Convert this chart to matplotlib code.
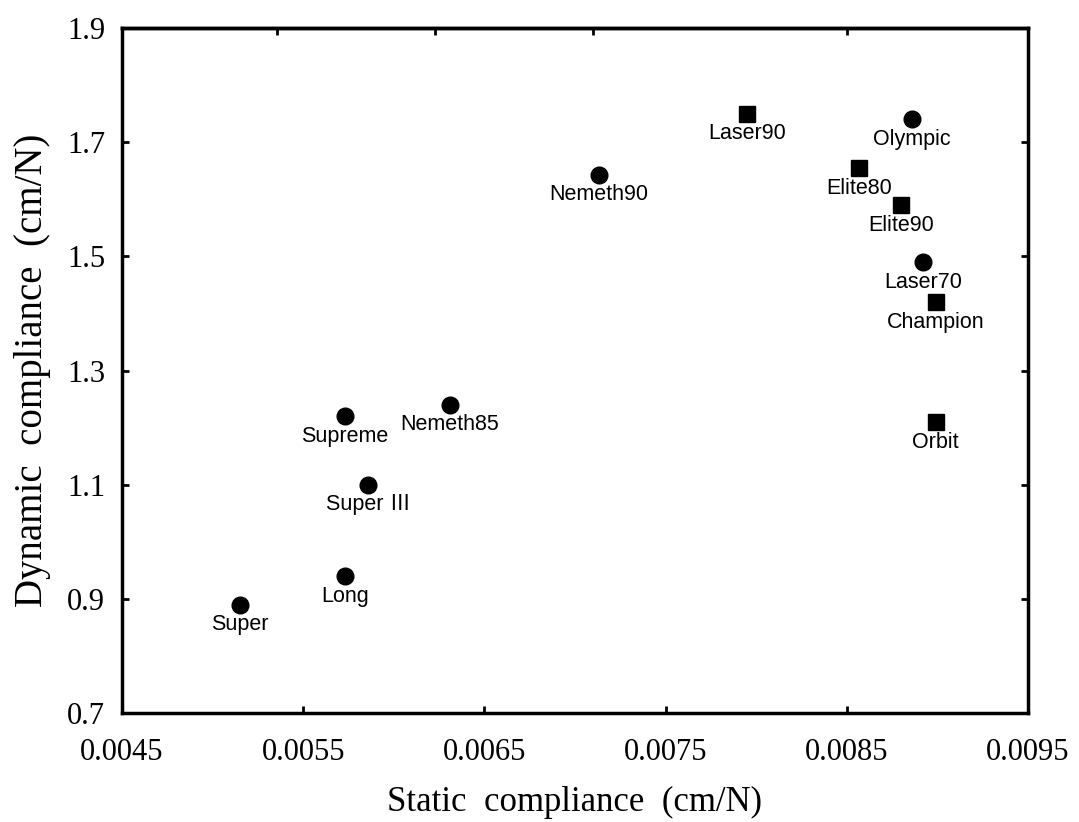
import matplotlib
matplotlib.use("Agg")
import matplotlib.pyplot as plt

# Strings / values
names = ["Super", "Long", "Super \u2162", "Supreme", "Nemeth85", "Nemeth90",
         "Olympic", "Laser70",
         "Laser90", "Elite80", "Elite90", "Champion", "Orbit"]
static = [0.00515, 0.00573, 0.00586, 0.00573, 0.00631, 0.00713,
          0.00886, 0.00892,
          0.00795, 0.00857, 0.00880, 0.00899, 0.00899]
dynamic = [0.89, 0.94, 1.10, 1.22, 1.24, 1.643,
           1.74, 1.49,
           1.75, 1.655, 1.59, 1.42, 1.21]
markers = ["o"] * 8 + ["s"] * 5

xticks = [0.0045, 0.0055, 0.0065, 0.0075, 0.0085, 0.0095]
yticks = [0.7, 0.9, 1.1, 1.3, 1.5, 1.7, 1.9]
# the top frame has its own (unlabelled) tick marks
top_ticks = [0.005355, 0.006227, 0.007099, 0.008501]


def main():
    fig = plt.figure(figsize=(10.79, 8.22), dpi=100)
    ax = fig.add_axes([0.1131, 0.1326, 0.8396, 0.8333])

    for x, y, m, name in zip(static, dynamic, markers, names):
        ax.plot(x, y, m, color="black", markersize=12)
        ax.annotate(name, (x, y), xytext=(0, -7), textcoords="offset points",
                    ha="center", va="top", fontsize=15.5,
                    family=["Liberation Sans", "Noto Sans CJK JP"])

    ax.set_xlim(0.0045, 0.0095)
    ax.set_ylim(0.7, 1.9)
    ax.set_xticks(xticks)
    ax.set_yticks(yticks)
    ax.set_xticklabels(["%.4f" % t for t in xticks])
    ax.set_yticklabels(["%.1f" % t for t in yticks])
    ax.tick_params(direction="in", length=5, width=2, right=True, labelsize=22)
    ax.tick_params(axis="x", pad=18)
    ax.tick_params(axis="y", pad=12)
    for lab in ax.get_xticklabels() + ax.get_yticklabels():
        lab.set_family("Liberation Serif")
    for s in ax.spines.values():
        s.set_linewidth(2.5)

    top = ax.secondary_xaxis("top")
    top.set_xticks(top_ticks)
    top.tick_params(direction="in", length=5, width=2, labeltop=False)
    top.spines["top"].set_linewidth(2.5)

    ax.set_xlabel("Static  compliance  (cm/N)", family="Liberation Serif",
                  fontsize=25, labelpad=14)
    ax.set_ylabel("Dynamic  compliance  (cm/N)", family="Liberation Serif",
                  fontsize=28, labelpad=12)

    fig.savefig("out.png", dpi=100)


if __name__ == "__main__":
    main()
